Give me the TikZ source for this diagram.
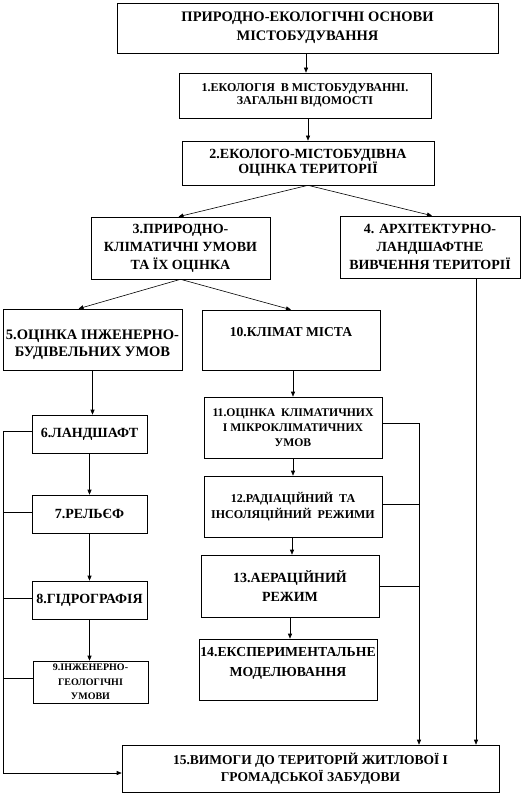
\documentclass[tikz,border=0pt]{standalone}
\usepackage{fontspec}
\setmainfont{Liberation Serif}
\usetikzlibrary{arrows.meta}
\begin{document}
\begin{tikzpicture}[x=1pt,y=-1pt,
  box/.style={draw=black,line width=0.6pt,fill=white,inner sep=0pt,align=center},
  txt/.style={inner sep=0pt,align=center},
  ln/.style={line width=0.6pt},
  arr/.style={line width=0.6pt,-{Triangle[length=5pt,width=4pt]}},
  fs/.style 2 args={font=\bfseries\fontsize{#1}{#2}\selectfont}]
\useasboundingbox[fill=white] (0,0) rectangle (528,794);
% boxes
\node[box,fs={14.5}{19},minimum width=381pt,minimum height=50pt] (top) at (307.5,28)
  {ПРИРОДНО-ЕКОЛОГІЧНІ ОСНОВИ\\МІСТОБУДУВАННЯ};
\node[box,fs={12}{12.4},minimum width=252pt,minimum height=45pt] (b1) at (305,95.5)
  {1.ЕКОЛОГІЯ\ \ В МІСТОБУДУВАННІ.\\ЗАГАЛЬНІ ВІДОМОСТІ};
\node[box,fs={14}{15},minimum width=252pt,minimum height=44pt] (b2) at (308,163)
  {2.ЕКОЛОГО-МІСТОБУДІВНА\\ОЦІНКА ТЕРИТОРІЇ};
\node[box,fs={14}{18},minimum width=179pt,minimum height=62pt] (b3) at (180.5,248)
  {3.ПРИРОДНО-\\КЛІМАТИЧНІ УМОВИ\\ТА ЇХ ОЦІНКА};
\node[box,fs={14}{18},minimum width=180pt,minimum height=62pt] (b4) at (430,247)
  {4. АРХІТЕКТУРНО-\\ЛАНДШАФТНЕ\\ВИВЧЕННЯ ТЕРИТОРІЇ};
\node[box,minimum width=179pt,minimum height=61pt] (b5) at (92.5,339.5) {};
\node[txt,fs={14.5}{17}] (b5t) at (92.5,344.5) {5.ОЦІНКА ІНЖЕНЕРНО-\\БУДІВЕЛЬНИХ УМОВ};
\node[box,minimum width=178pt,minimum height=60pt] (b10) at (291,340) {};
\node[txt,fs={13.6}{17}] (b10t) at (291,332) {10.КЛІМАТ МІСТА};
\node[box,fs={11.7}{15},minimum width=178pt,minimum height=61pt] (b11) at (293,427.5)
  {11.ОЦІНКА\ \ КЛІМАТИЧНИХ\\І МІКРОКЛІМАТИЧНИХ\\УМОВ};
\node[box,fs={14}{17},minimum width=115pt,minimum height=38pt] (b6) at (89.5,434) {6.ЛАНДШАФТ};
\node[box,fs={14}{17},minimum width=115pt,minimum height=38pt] (b7) at (89.5,514) {7.РЕЛЬЄФ};
\node[box,fs={12}{16},minimum width=178pt,minimum height=61pt] (b12) at (293,506.5)
  {12.РАДІАЦІЙНИЙ\ \ ТА\\ІНСОЛЯЦІЙНИЙ\ \ РЕЖИМИ};
\node[box,fs={14}{19},minimum width=178pt,minimum height=62pt] (b13) at (290,586)
  {13.АЕРАЦІЙНИЙ\\РЕЖИМ};
\node[box,fs={14}{17},minimum width=115pt,minimum height=38pt] (b8) at (89.5,600) {8.ГІДРОГРАФІЯ};
\node[box,fs={10}{14.5},minimum width=115pt,minimum height=42pt] (b9) at (90.5,682)
  {9.ІНЖЕНЕРНО-\\ГЕОЛОГІЧНІ\\УМОВИ};
\node[box,minimum width=178pt,minimum height=61pt] (b14) at (288,669.5) {};
\node[txt,fs={13.75}{20}] (b14t) at (288,663) {14.ЕКСПЕРИМЕНТАЛЬНЕ\\МОДЕЛЮВАННЯ};
\node[box,fs={13.5}{16.5},minimum width=377pt,minimum height=47pt] (b15) at (310.5,768.5)
  {15.ВИМОГИ ДО ТЕРИТОРІЙ ЖИТЛОВОЇ І\\ГРОМАДСЬКОЇ ЗАБУДОВИ};
% helper coordinates
\coordinate (lb) at (3,773);
\coordinate (rx) at (419,0);
\coordinate (x4) at ([xshift=46pt]b4.south);
\coordinate (w6) at ([yshift=3pt]b6.west);
\coordinate (w7) at ([yshift=2pt]b7.west);
\coordinate (w8) at ([yshift=2pt]b8.west);
\coordinate (w9) at ([yshift=4pt]b9.west);
\coordinate (e11) at ([yshift=4pt]b11.east);
\coordinate (e12) at ([yshift=2pt]b12.east);
\coordinate (e13) at (b13.east);
\coordinate (s0) at ([xshift=-1.5pt]top.south);
\coordinate (s12) at ([xshift=-1pt]b12.south);
% connectors
\draw[arr] (s0) -- (s0 |- b1.north);
\draw[arr] (b2.north |- b1.south) -- (b2.north);
\draw[arr] (b2.south) -- ([xshift=-2pt]b3.north);
\draw[arr] (b2.south) -- ([xshift=2pt]b4.north);
\draw[arr] (b3.south) -- ([xshift=-14pt]b5.north);
\draw[arr] (b3.south) -- (b10.north);
\draw[arr] (x4) -- (x4 |- b15.north);
\draw[arr] (b5.south) -- (b5.south |- b6.north);
\draw[arr] (b11.north |- b10.south) -- (b11.north);
\draw[arr] (b6.south) -- (b7.north);
\draw[arr] (b7.south) -- (b8.north);
\draw[arr] (b8.south) -- (b8.south |- b9.north);
\draw[arr] (b11.south) -- (b12.north);
\draw[arr] (s12) -- (s12 |- b13.north);
\draw[arr] (b13.south) -- (b13.south |- b14.north);
% left bus
\draw[arr] (w6) -| (lb) -- (b15.west |- lb);
\draw[ln] (w7) -- (w7 -| lb);
\draw[ln] (w8) -- (w8 -| lb);
\draw[ln] (w9) -- (w9 -| lb);
% right bus
\draw[arr] (e11) -| (rx |- b15.north);
\draw[ln] (e12) -- (e12 -| rx);
\draw[ln] (e13) -- (e13 -| rx);
\end{tikzpicture}
\end{document}
